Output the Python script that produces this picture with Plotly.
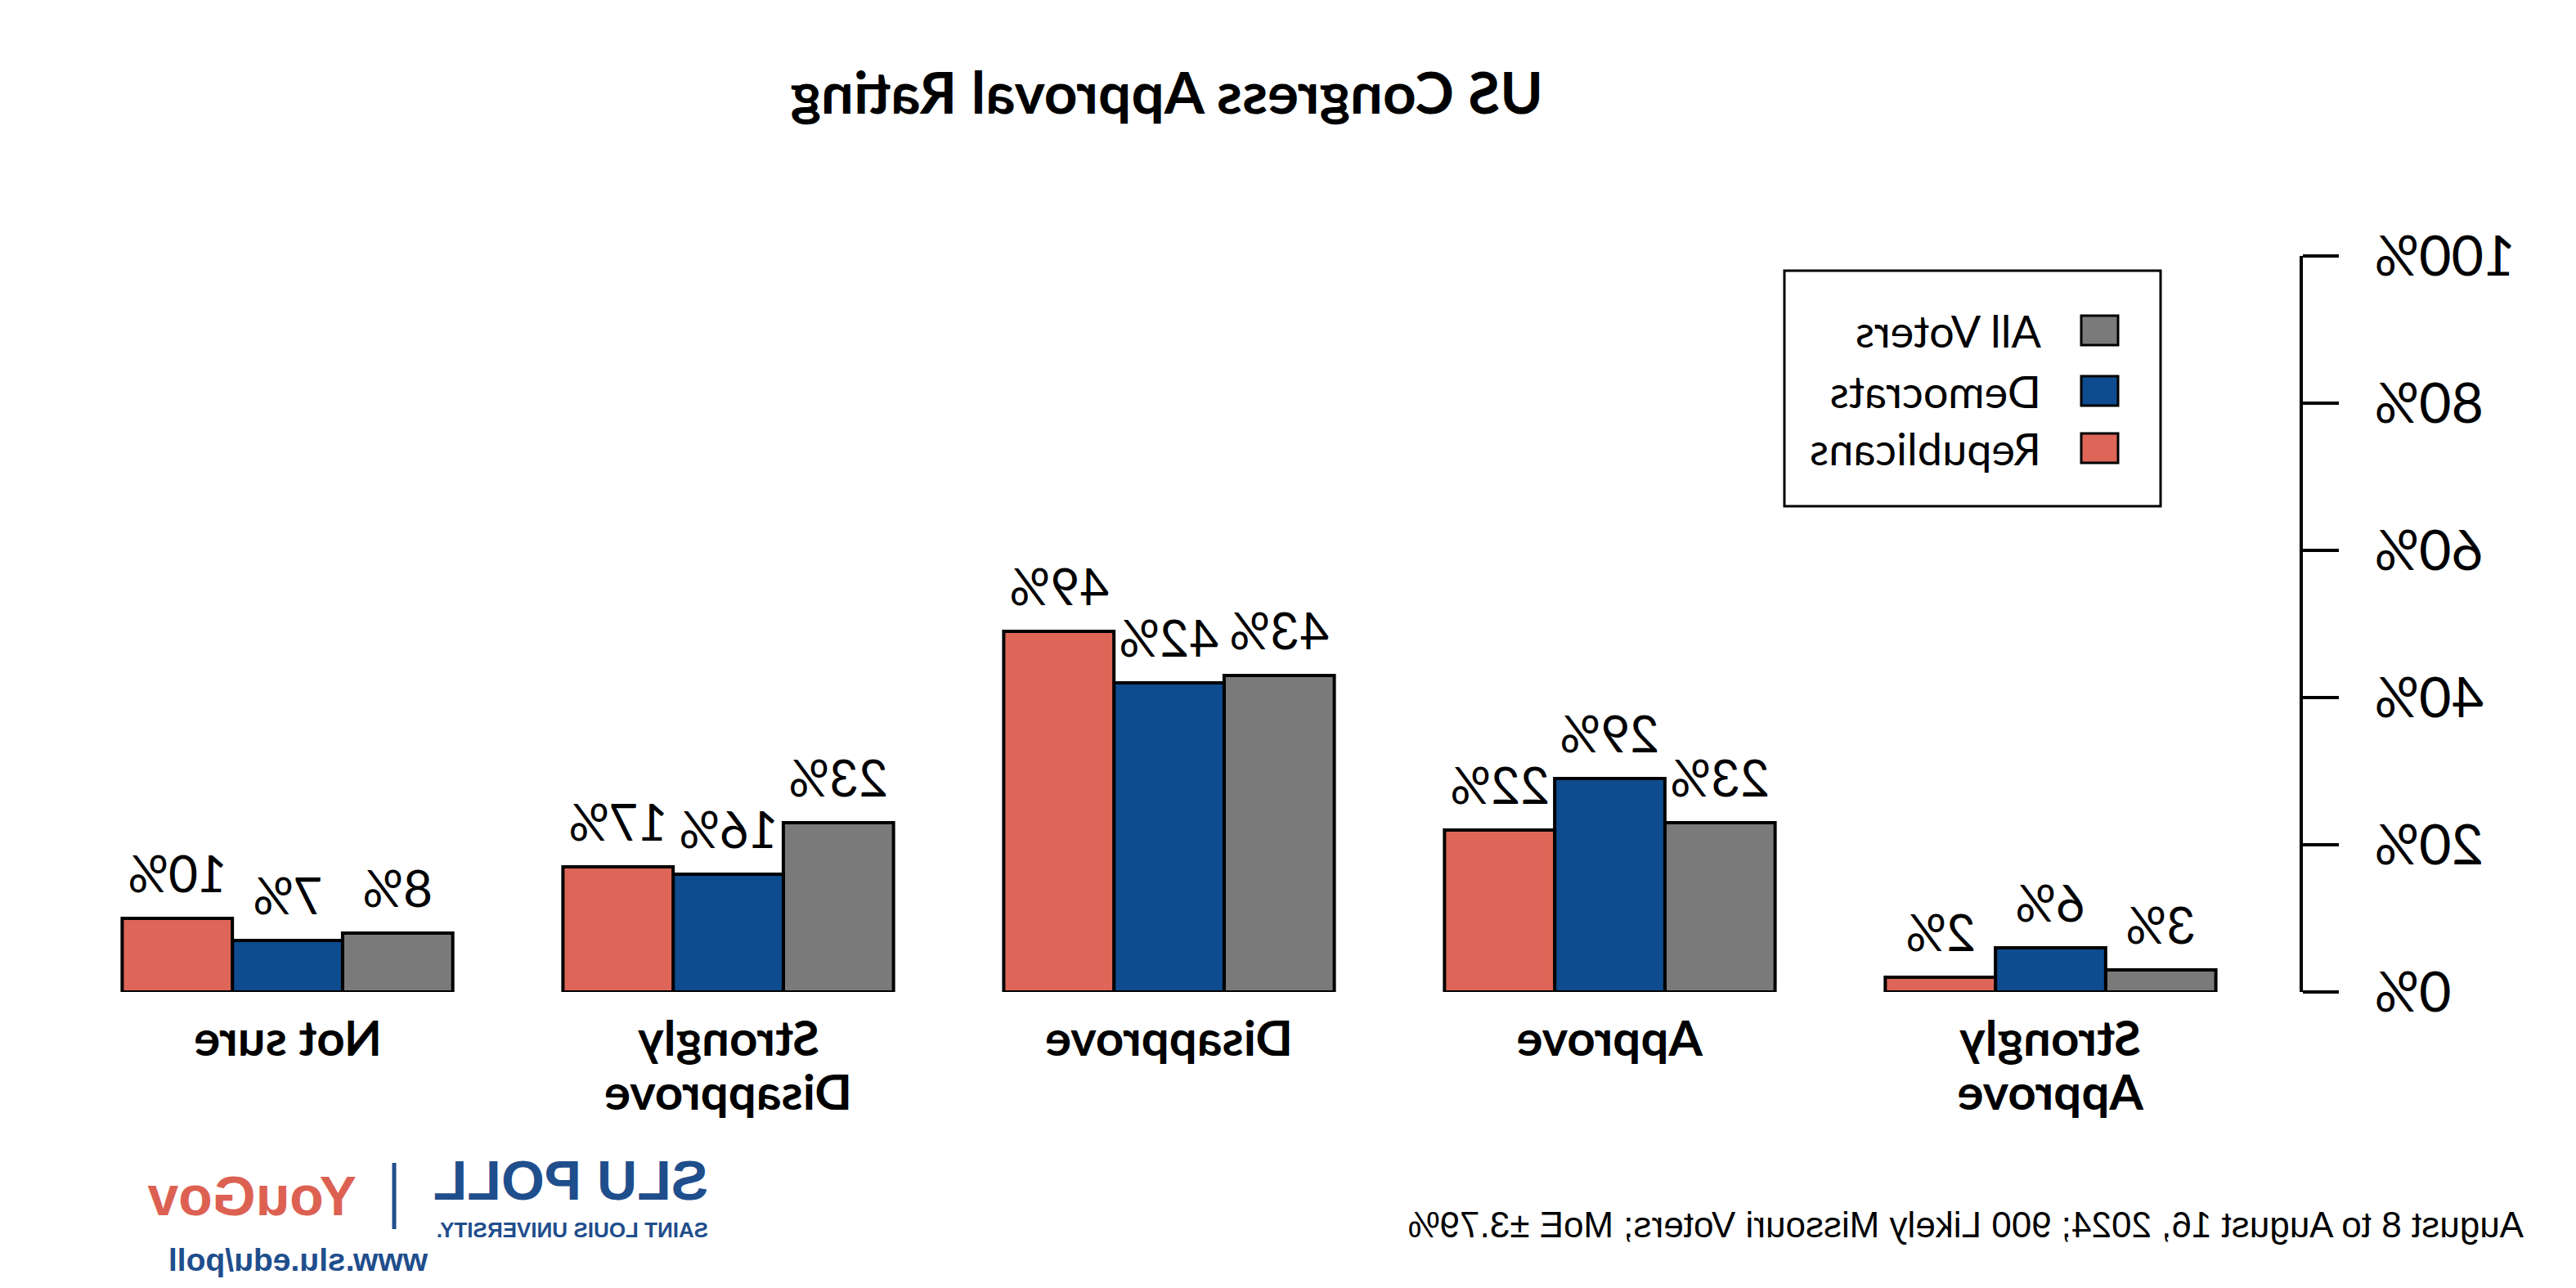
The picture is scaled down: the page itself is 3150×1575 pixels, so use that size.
import plotly.graph_objects as go

# ---- data ----
categories = ["Strongly<br>Approve", "Approve", "Disapprove", "Strongly<br>Disapprove", "Not sure"]
series_names = ["All Voters", "Democrats", "Republicans"]
all_voters = [3, 23, 43, 23, 8]
democrats = [6, 29, 42, 16, 7]
republicans = [2, 22, 49, 17, 10]
y_ticks = [0, 20, 40, 60, 80, 100]
y_tick_labels = ["0%", "20%", "40%", "60%", "80%", "100%"]
title_text = "US Congress Approval Rating"
footer_text = "August 8 to August 16, 2024; 900 Likely Missouri Voters; MoE ±3.79%"

series_values = [all_voters, democrats, republicans]
colors = ["#7a7a7a", "#0e4c8f", "#dd6658"]

W, H = 3150, 1575
L, R, T, B = 338, 47, 313, 362
PW, PH = W - L - R, H - T - B
XR = [-0.565, 4.565]
bar_px = 0.25 * PW / (XR[1] - XR[0])

def px(x):
    return (x - L) / PW

def py(y):
    return (H - B - y) / PH

FONT = "Lato"

fig = go.Figure()
for name, vals, col in zip(series_names, series_values, colors):
    fig.add_trace(go.Bar(
        x=categories, y=vals, name=name,
        marker=dict(color=col, line=dict(color="black", width=4)),
        showlegend=False,
    ))

annotations = []
for k, vals in enumerate(series_values):
    for cat, v in zip(categories, vals):
        annotations.append(dict(
            x=cat, y=v, xref="x", yref="y", text=f"{v}%", showarrow=False,
            xshift=(k - 1) * bar_px, yshift=56, yanchor="middle",
            font=dict(family=FONT, size=62, color="black"),
        ))

# category labels, one annotation per line
for cat in categories:
    for i, line in enumerate(cat.split("<br>")):
        annotations.append(dict(
            x=cat, y=py(1268 + 66 * i), xref="x", yref="paper", text=line, showarrow=False,
            xanchor="center", yanchor="middle",
            font=dict(family=FONT, size=60, color="black", weight="bold"),
        ))

# title
annotations.append(dict(x=px(1723), y=py(112), xref="paper", yref="paper", text=title_text,
                        showarrow=False, xanchor="center", yanchor="middle",
                        font=dict(family=FONT, size=71, color="black", weight="bold")))
# footer
annotations.append(dict(x=px(62), y=py(1497), xref="paper", yref="paper", text=footer_text,
                        showarrow=False, xanchor="left", yanchor="middle",
                        font=dict(family="Liberation Sans", size=44, color="black")))

# legend (drawn)
shapes = []
shapes.append(dict(type="rect", xref="paper", yref="paper", x0=px(508), x1=px(968),
                   y0=py(619), y1=py(331), line=dict(color="black", width=3), fillcolor="white"))
leg_y = [404, 478, 548]
for name, col, yy in zip(series_names, colors, leg_y):
    shapes.append(dict(type="rect", xref="paper", yref="paper", x0=px(560), x1=px(605),
                       y0=py(yy + 18), y1=py(yy - 18), line=dict(color="black", width=3),
                       fillcolor=col))
    annotations.append(dict(x=px(652), y=py(yy), xref="paper", yref="paper", text=name,
                            showarrow=False, xanchor="left", yanchor="middle",
                            font=dict(family=FONT, size=54, color="black")))

# logos as text
logo_blue = "#1f4e8c"
annotations.append(dict(x=px(2282), y=py(1443), xref="paper", yref="paper", text="<b>SLU POLL</b>",
                        showarrow=False, xanchor="left", yanchor="middle",
                        font=dict(family="Liberation Sans", size=68, color=logo_blue)))
annotations.append(dict(x=px(2282), y=py(1504), xref="paper", yref="paper",
                        text="<b>SAINT LOUIS UNIVERSITY.</b>",
                        showarrow=False, xanchor="left", yanchor="middle",
                        font=dict(family="Liberation Sans", size=26, color=logo_blue)))
annotations.append(dict(x=px(2712), y=py(1462), xref="paper", yref="paper", text="<b>YouGov</b>",
                        showarrow=False, xanchor="left", yanchor="middle",
                        font=dict(family="Liberation Sans", size=68, color="#dc6152")))
annotations.append(dict(x=px(2624), y=py(1540), xref="paper", yref="paper", text="<b>www.slu.edu/poll</b>",
                        showarrow=False, xanchor="left", yanchor="middle",
                        font=dict(family="Liberation Sans", size=39, color=logo_blue)))
shapes.append(dict(type="line", xref="paper", yref="paper", x0=px(2668), x1=px(2668),
                   y0=py(1503), y1=py(1422), line=dict(color=logo_blue, width=5)))

fig.update_layout(
    width=W, height=H,
    margin=dict(l=L, r=R, t=T, b=B, pad=0),
    paper_bgcolor="white", plot_bgcolor="white",
    barmode="group", bargap=0.25, bargroupgap=0,
    annotations=annotations, shapes=shapes,
    xaxis=dict(range=XR, showline=False, ticks="", showgrid=False, zeroline=False,
               showticklabels=False),
    yaxis=dict(range=[0, 100], tickvals=y_ticks, ticktext=y_tick_labels,
               showline=True, linecolor="black", linewidth=4,
               ticks="outside", ticklen=44, tickwidth=4, tickcolor="black",
               showgrid=False, zeroline=False, ticklabelstandoff=30,
               tickfont=dict(family=FONT, size=68, color="black")),
    font=dict(family=FONT, color="black"),
)

fig.write_html("out.html", post_script=(
    "document.body.style.margin='0';"
    "var gd=document.getElementById('{plot_id}');"
    "gd.style.transform='scaleX(-1)';gd.style.transformOrigin='center center';"
))
